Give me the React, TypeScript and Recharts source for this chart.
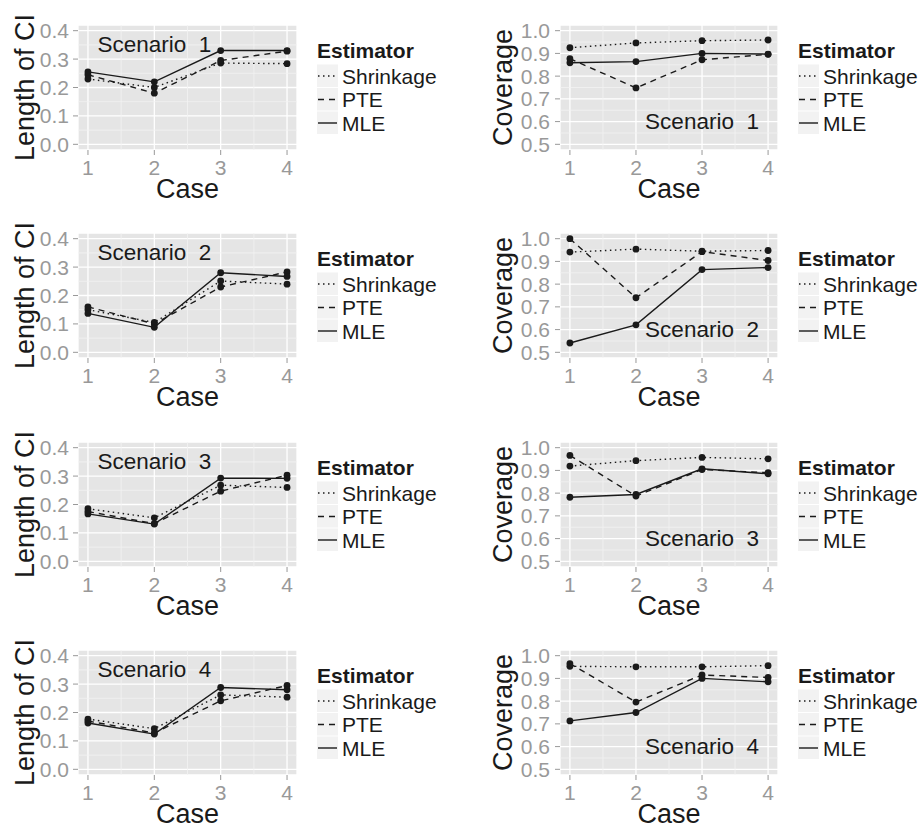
import React from 'react';
import { LineChart, Line, XAxis, YAxis, CartesianGrid, ReferenceLine, ReferenceDot } from 'recharts';

const FONT = '"Liberation Sans", Arial, Helvetica, sans-serif';
const INK = '#1a1a1a';

const cases = [1, 2, 3, 4];
const scenarios = [1, 2, 3, 4];
const estimators = ['Shrinkage', 'PTE', 'MLE'];

// one row per scenario, one value per case
const lengthShrinkage = [
  [0.23, 0.2, 0.286, 0.284],
  [0.15, 0.105, 0.251, 0.24],
  [0.185, 0.153, 0.268, 0.26],
  [0.177, 0.143, 0.262, 0.254],
];
const lengthPte = [
  [0.245, 0.18, 0.295, 0.328],
  [0.16, 0.1, 0.23, 0.283],
  [0.175, 0.133, 0.247, 0.303],
  [0.17, 0.128, 0.241, 0.295],
];
const lengthMle = [
  [0.255, 0.22, 0.33, 0.33],
  [0.137, 0.088, 0.28, 0.267],
  [0.167, 0.131, 0.293, 0.292],
  [0.163, 0.124, 0.288, 0.28],
];
const coverageShrinkage = [
  [0.925, 0.946, 0.956, 0.959],
  [0.941, 0.954, 0.945, 0.948],
  [0.919, 0.943, 0.957, 0.951],
  [0.953, 0.951, 0.951, 0.956],
];
const coveragePte = [
  [0.877, 0.748, 0.872, 0.896],
  [1.0, 0.74, 0.943, 0.904],
  [0.966, 0.787, 0.904, 0.89],
  [0.965, 0.796, 0.915, 0.904],
];
const coverageMle = [
  [0.859, 0.864, 0.9, 0.897],
  [0.541, 0.621, 0.864, 0.873],
  [0.782, 0.794, 0.907, 0.885],
  [0.713, 0.75, 0.9, 0.885],
];

const lengthTicks = [0, 0.1, 0.2, 0.3, 0.4];
const lengthMinor = [0.05, 0.15, 0.25, 0.35];
const coverageTicks = [0.5, 0.6, 0.7, 0.8, 0.9, 1.0];
const coverageMinor = [0.55, 0.65, 0.75, 0.85, 0.95];
const caseMinor = [1.5, 2.5, 3.5];

const rowTops = [0, 208, 417, 625];
const dashes: Record<string, string | undefined> = {
  Shrinkage: '1.5 3.5',
  PTE: '6 5',
  MLE: undefined,
};

const EstimatorLegend = ({ left, top }: any) => (
  <svg style={{ position: 'absolute', left, top }} width={135} height={105}>
    <text x={0} y={15} dominantBaseline="central" fontFamily={FONT} fontSize={21} fontWeight="bold" fill={INK}>
      Estimator
    </text>
    {estimators.map((name, i) => {
      const cy = 41 + i * 23.5;
      return (
        <g key={name}>
          <rect x={0} y={cy - 11.5} width={21} height={22.5} fill="#F2F2F2" />
          <line x1={1} x2={20} y1={cy} y2={cy} stroke={INK} strokeWidth={1.4} strokeDasharray={dashes[name]} />
          <text x={25} y={cy} dominantBaseline="central" fontFamily={FONT} fontSize={21} fill={INK}>
            {name}
          </text>
        </g>
      );
    })}
  </svg>
);

const Panel = ({ metric, s }: any) => {
  const isLen = metric === 'length';
  const data = cases.map((c, i) => ({
    case: c,
    Shrinkage: (isLen ? lengthShrinkage : coverageShrinkage)[s][i],
    PTE: (isLen ? lengthPte : coveragePte)[s][i],
    MLE: (isLen ? lengthMle : coverageMle)[s][i],
  }));
  const left = isLen ? 0 : 460;
  const width = isLen ? 460 : 464;
  const axisW = isLen ? 78 : 100;
  const titleX = isLen ? 25 : 43;
  const yTicks = isLen ? lengthTicks : coverageTicks;
  const minor = isLen ? lengthMinor : coverageMinor;
  const title = isLen ? 'Length of CI' : 'Coverage';
  const tag = isLen ? { x: 2, y: 0.35 } : { x: 3, y: 0.6 };
  const tickStyle = { fill: '#999', fontSize: 21, fontFamily: FONT };

  return (
    <div style={{ position: 'absolute', left, top: rowTops[s] }}>
      <LineChart width={width} height={205} data={data} margin={{ top: 25, right: isLen ? 163 : 146, bottom: 0, left: 0 }}>
        <CartesianGrid fill="#E5E5E5" fillOpacity={1} stroke="#fff" strokeWidth={1.3} />
        {minor.map((v) => (
          <ReferenceLine key={'y' + v} y={v} stroke="#F2F2F2" strokeWidth={0.8} />
        ))}
        {caseMinor.map((v) => (
          <ReferenceLine key={'x' + v} x={v} stroke="#F2F2F2" strokeWidth={0.8} />
        ))}
        <XAxis
          dataKey="case"
          type="number"
          domain={[0.85, 4.15]}
          ticks={cases}
          interval={0}
          allowDataOverflow
          height={55}
          axisLine={false}
          tickSize={5}
          tickMargin={5}
          tickLine={{ stroke: '#999' }}
          tick={tickStyle}
          label={({ viewBox }: any) => (
            <text x={viewBox.x + viewBox.width / 2} y={viewBox.y + 39} textAnchor="middle" dominantBaseline="central" fontFamily={FONT} fontSize={27} fill={INK}>
              Case
            </text>
          )}
        />
        <YAxis
          type="number"
          domain={isLen ? [-0.02, 0.42] : [0.475, 1.025]}
          ticks={yTicks}
          interval={0}
          allowDataOverflow
          width={axisW}
          axisLine={false}
          tickSize={5}
          tickMargin={isLen ? 4 : 5}
          tickLine={{ stroke: '#999' }}
          tick={tickStyle}
          tickFormatter={(v: number) => v.toFixed(1)}
          label={({ viewBox }: any) => {
            const cx = viewBox.x + titleX;
            const cy = viewBox.y + viewBox.height / 2;
            return (
              <text x={cx} y={cy} transform={`rotate(-90 ${cx} ${cy})`} textAnchor="middle" dominantBaseline="central" fontFamily={FONT} fontSize={27} fill={INK}>
                {title}
              </text>
            );
          }}
        />
        {estimators.map((name) => (
          <Line
            key={name}
            type="linear"
            dataKey={name}
            stroke={INK}
            strokeWidth={1.4}
            strokeDasharray={dashes[name]}
            dot={{ r: 3.4, fill: INK, stroke: 'none', strokeWidth: 0 }}
            isAnimationActive={false}
          />
        ))}
        <ReferenceDot
          x={tag.x}
          y={tag.y}
          r={0}
          fill="none"
          stroke="none"
          label={({ viewBox }: any) => (
            <text
              x={viewBox.x + (viewBox.width || 0) / 2}
              y={viewBox.y + (viewBox.height || 0) / 2}
              textAnchor="middle"
              dominantBaseline="central"
              fontFamily={FONT}
              fontSize={22.5}
              fill={INK}
              style={{ whiteSpace: 'pre' }}
            >
              {`Scenario  ${scenarios[s]}`}
            </text>
          )}
        />
      </LineChart>
      <EstimatorLegend left={isLen ? 317 : 338} top={35} />
    </div>
  );
};

export default function App() {
  return (
    <div style={{ position: 'absolute', left: 0, top: 0, width: 924, height: 825, overflow: 'hidden', background: '#fff', fontFamily: FONT }}>
      {scenarios.map((_, s) => (
        <React.Fragment key={s}>
          <Panel metric="length" s={s} />
          <Panel metric="coverage" s={s} />
        </React.Fragment>
      ))}
    </div>
  );
}
